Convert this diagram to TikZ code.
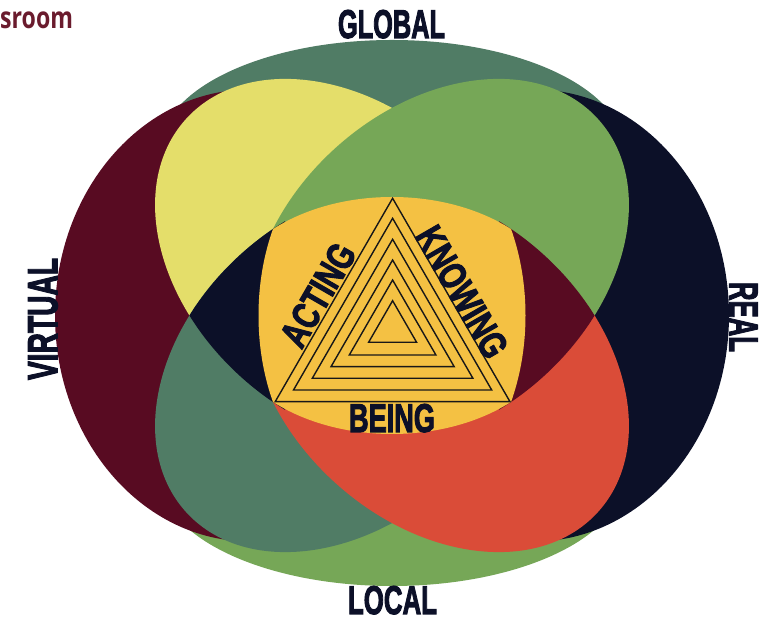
\documentclass[tikz,border=0pt]{standalone}
\usepackage{fontspec}
\setmainfont{Liberation Sans}
\newfontfamily\sroomfam{Open Sans}
\newfontfamily\labfam{Liberation Sans}[FakeBold=3]
\usepackage{graphicx}
\definecolor{cMaroon}{HTML}{580B22}
\definecolor{cNavy}{HTML}{0C1028}
\definecolor{cDkGreen}{HTML}{507C65}
\definecolor{cLtGreen}{HTML}{76A757}
\definecolor{cYellow}{HTML}{E4DE6A}
\definecolor{cRed}{HTML}{DA4C38}
\definecolor{cOrange}{HTML}{F4C143}
\definecolor{cText}{HTML}{0C1028}
\definecolor{cSroom}{HTML}{6A1B2D}
\definecolor{cLine}{HTML}{181818}
\newcommand\petY{(344.7,358.6) ellipse[x radius=213.9pt, y radius=154.5pt]}
\newcommand\petG{(439.3,358.6) ellipse[x radius=213.9pt, y radius=154.5pt]}
\newcommand\petD{(344.7,252.4) ellipse[x radius=213.9pt, y radius=154.5pt]}
\newcommand\petR{(439.3,252.4) ellipse[x radius=213.9pt, y radius=154.5pt]}
\newcommand\labtext[3]{\resizebox{#1pt}{#2pt}{\labfam\bfseries\fontsize{40}{40}\selectfont #3}}
\tikzset{
  rY/.style={rotate around={-42:(344.7,358.6)}},
  rG/.style={rotate around={42:(439.3,358.6)}},
  rD/.style={rotate around={42:(344.7,252.4)}},
  rR/.style={rotate around={-42:(439.3,252.4)}},
  lab/.style={text=cText, inner sep=0pt},
  tri/.style={draw=cLine, line width=1.4pt, line join=miter}
}
\begin{document}
\begin{tikzpicture}[x=1pt,y=1pt]
\useasboundingbox (0,0) rectangle (761,621);
\fill[white] (0,0) rectangle (761,621);
% global / local
\fill[cDkGreen] (392,471) ellipse[x radius=232pt, y radius=110pt];
\fill[cLtGreen] (392,145) ellipse[x radius=232pt, y radius=110pt];
% virtual / real
\fill[cMaroon] (250,305.5) ellipse[x radius=195pt, y radius=226pt];
\fill[cNavy] (534,305.5) ellipse[x radius=195pt, y radius=226pt];
% petals
\fill[cYellow, rY] \petY;
\fill[cDkGreen, rD] \petD;
\begin{scope}
  \clip (0,305.5) rectangle (761,621);
  \fill[cLtGreen, rG] \petG;
\end{scope}
\begin{scope}
  \clip (0,0) rectangle (761,305.5);
  \fill[cRed, rR] \petR;
\end{scope}
% lenses
\begin{scope}
  \clip (0,0) rectangle (285,621);
  \clip[rY] \petY;
  \clip[rD] \petD;
  \fill[cNavy] (0,0) rectangle (761,621);
\end{scope}
\begin{scope}
  \clip (499,0) rectangle (761,621);
  \clip[rG] \petG;
  \clip[rR] \petR;
  \fill[cMaroon] (0,0) rectangle (761,621);
\end{scope}
% centre
\begin{scope}
  \clip (392,305.5) ellipse[x radius=133.5pt, y radius=190.9pt];
  \fill[cOrange] (392,305.5) ellipse[x radius=174pt, y radius=118.5pt];
\end{scope}
% triangles
\draw[tri] (392.6,422.7) -- (275.2,219.3) -- (510.0,219.3) -- cycle;
\draw[tri] (392.6,402.7) -- (293.5,231.0) -- (491.7,231.0) -- cycle;
\draw[tri] (392.6,381.7) -- (312.3,242.7) -- (472.9,242.7) -- cycle;
\draw[tri] (392.6,361.0) -- (331.0,254.3) -- (454.2,254.3) -- cycle;
\draw[tri] (392.6,341.0) -- (349.3,266.0) -- (435.9,266.0) -- cycle;
\draw[tri] (392.6,320.3) -- (368.6,278.7) -- (416.6,278.7) -- cycle;
% labels
\node[lab, anchor=base] (global) at (391.5,583) {\labtext{107}{28}{GLOBAL}};
\node[lab, anchor=base] (local) at (392.5,7) {\labtext{89}{28}{LOCAL}};
\node[lab, anchor=base] (being) at (392,189) {\labtext{86}{28}{BEING}};
\node[lab, rotate=90] (virtual) at (43,302) {\labtext{122}{29}{VIRTUAL}};
\node[lab, rotate=-90] (real) at (743.5,304) {\labtext{70}{28}{REAL}};
\node[lab, rotate=60] (acting) at (318,326) {\labtext{112}{27}{ACTING}};
\node[lab, rotate=-60] (knowing) at (462,329) {\labtext{145}{27}{KNOWING}};
\node[anchor=base west, inner sep=0pt, text=cSroom, font=\sroomfam\bfseries\fontsize{30}{30}\selectfont] (sroom) at (0,592) {\scalebox{0.77}[1]{sroom}};
\end{tikzpicture}
\end{document}
